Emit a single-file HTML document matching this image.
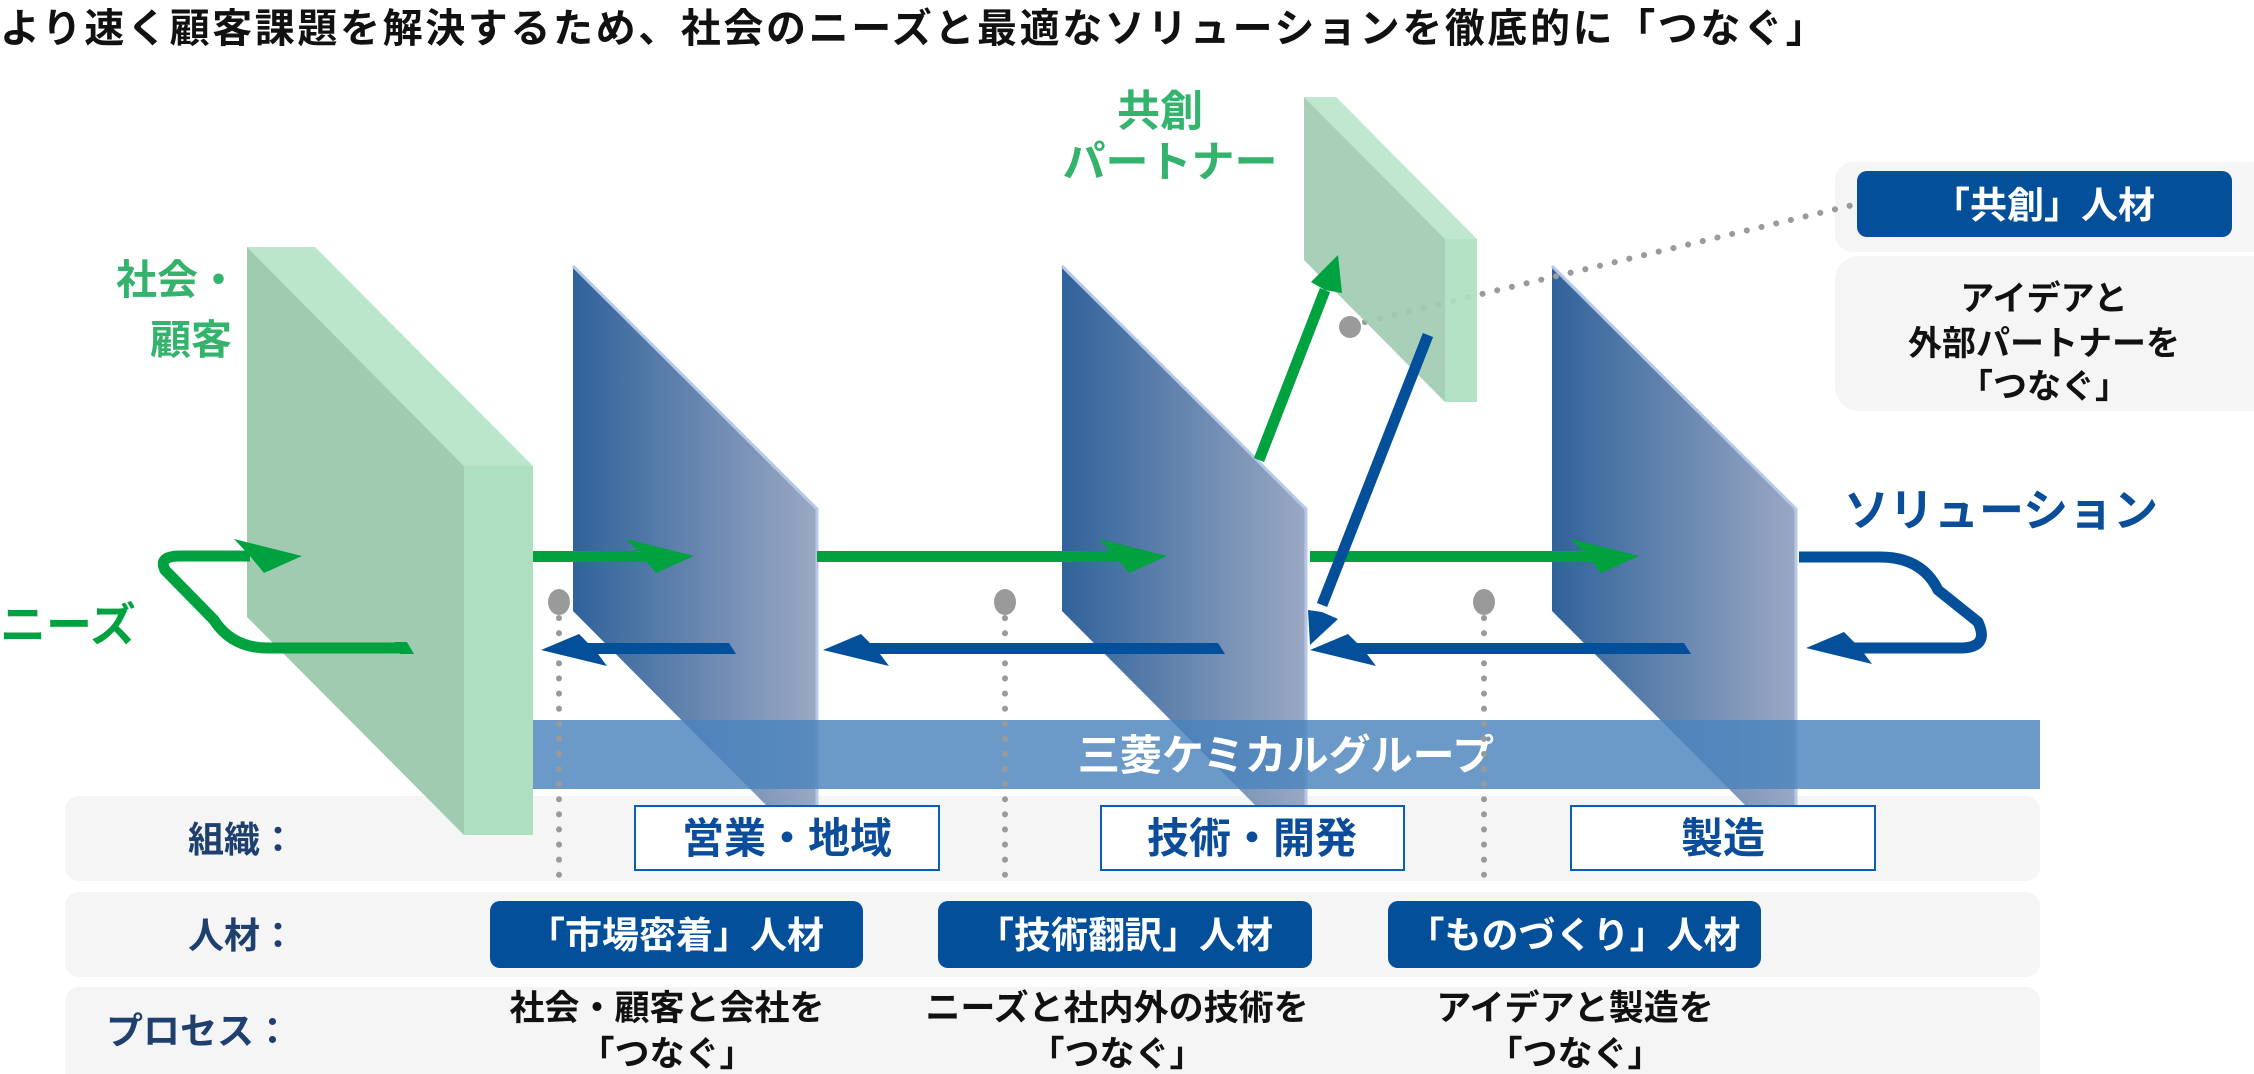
<!DOCTYPE html>
<html><head><meta charset="utf-8"><style>
html,body{margin:0;padding:0;background:#fff;}
svg{display:block;}
text{font-family:"Liberation Sans","Noto Sans CJK JP",sans-serif;font-weight:bold;}
</style></head><body>
<svg width="2254" height="1074" viewBox="0 0 2254 1074" xmlns="http://www.w3.org/2000/svg">
<defs>
<linearGradient id="bg" x1="0" y1="0" x2="1" y2="0">
<stop offset="0" stop-color="#2a5e98"/><stop offset="1" stop-color="#98a6c2"/>
</linearGradient>
</defs>
<text x="0" y="42" font-size="40" fill="#111" letter-spacing="2.6">より速く顧客課題を解決するため、社会のニーズと最適なソリューションを徹底的に「つなぐ」</text>

<rect x="65" y="796" width="1975" height="85" rx="14" fill="#f5f5f5"/>
<rect x="65" y="892" width="1975" height="85" rx="14" fill="#f5f5f5"/>
<rect x="65" y="987" width="1975" height="100" rx="14" fill="#f5f5f5"/>

<rect x="1835" y="162" width="440" height="90" rx="18" fill="#f5f5f5"/>
<rect x="1835" y="256" width="440" height="155" rx="24" fill="#f5f5f5"/>
<rect x="1857" y="171" width="375" height="66" rx="10" fill="#034f9a"/>
<text x="2044" y="218" font-size="37" fill="#fff" text-anchor="middle">「共創」人材</text>
<text x="2044" y="310" font-size="34" fill="#111" text-anchor="middle">アイデアと</text>
<text x="2044" y="355" font-size="34" fill="#111" text-anchor="middle">外部パートナーを</text>
<text x="2044" y="398" font-size="34" fill="#111" text-anchor="middle">「つなぐ」</text>

<polygon points="247,247 315,247 533,466 464,466" fill="#bbe6cc"/>
<polygon points="247,247 464,466 464,835 247,617" fill="#a1cbb1"/>
<rect x="464" y="466" width="69" height="369" fill="#aee0c0"/>

<g opacity="0.97">
<polygon points="573,266 817,509 817,806 767,806 573,611" fill="url(#bg)"/>
<polyline points="573,266 817,509 817,806" fill="none" stroke="#b5c8e8" stroke-width="3"/>
<polygon points="1062,266 1306,509 1306,806 1256,806 1062,611" fill="url(#bg)"/>
<polyline points="1062,266 1306,509 1306,806" fill="none" stroke="#b5c8e8" stroke-width="3"/>
<polygon points="1552,266 1796,509 1796,806 1746,806 1552,611" fill="url(#bg)"/>
<polyline points="1552,266 1796,509 1796,806" fill="none" stroke="#b5c8e8" stroke-width="3"/>
</g>

<rect x="533" y="720" width="1507" height="69" fill="#4a84bd" opacity="0.82"/>
<text x="1286" y="770" font-size="42" fill="#fff" text-anchor="middle">三菱ケミカルグループ</text>

<g stroke="#9a9a9a" stroke-width="6" stroke-linecap="round" stroke-dasharray="0.1 15" fill="none">
<line x1="559" y1="618" x2="559" y2="886"/>
<line x1="1005" y1="618" x2="1005" y2="886"/>
<line x1="1484" y1="618" x2="1484" y2="886"/>
<line x1="1365" y1="322" x2="1853" y2="205"/>
</g>
<g fill="#9a9a9a">
<ellipse cx="559" cy="602" rx="11" ry="13"/>
<ellipse cx="1005" cy="602" rx="11" ry="13"/>
<ellipse cx="1484" cy="602" rx="11" ry="13"/>
</g>

<g opacity="0.92">
<polygon points="1304,97 1336,97 1477,239 1445,239" fill="#bbe6cc"/>
<polygon points="1304,97 1445,239 1445,402 1304,260" fill="#a1cbb1"/>
<rect x="1445" y="239" width="32" height="163" fill="#aee0c0"/>
</g>
<circle cx="1350" cy="327" r="11" fill="#9a9a9a"/>

<g fill="#00a23f">
<path d="M400,648 H268 Q232,648 214,620 L165,570 Q158,556 180,556 H250" fill="none" stroke="#00a23f" stroke-width="11" stroke-linejoin="round"/>
<polygon points="395,642 407,642 414,654 400,654"/>
<polygon points="302,556 234,539 250,556 264,573"/>
<rect x="533" y="551" width="125" height="11"/>
<polygon points="694,556 626,539 642,556 656,573"/>
<rect x="817" y="551" width="310" height="11"/>
<polygon points="1167,556 1099,539 1115,556 1129,573"/>
<rect x="1310" y="551" width="290" height="11"/>
<polygon points="1639,556 1571,539 1587,556 1601,573"/>
<line x1="1259" y1="460" x2="1325" y2="290" stroke="#00a23f" stroke-width="11"/>
<polygon points="1338,255 1311,282 1325,290 1342,293"/>
</g>

<g fill="#034f9a">
<polygon points="580,643 729,643 736,654 580,654"/>
<polygon points="541,650 579,634 595,650 607,666"/>
<polygon points="862,643 1218,643 1225,654 862,654"/>
<polygon points="823,650 861,634 877,650 889,666"/>
<polygon points="1350,643 1684,643 1691,654 1350,654"/>
<polygon points="1310,650 1348,634 1364,650 1376,666"/>
<path d="M1799,557 H1880 Q1922,557 1938,590 L1978,622 Q1990,648 1960,648 H1845" fill="none" stroke="#034f9a" stroke-width="11" stroke-linejoin="round"/>
<polygon points="1806,648 1844,632 1860,648 1872,664"/>
<line x1="1428" y1="335" x2="1322" y2="605" stroke="#034f9a" stroke-width="11"/>
<polygon points="1310,645 1308,610 1322,612 1338,619"/>
</g>

<text x="239" y="294" font-size="41" fill="#33b36b" text-anchor="end">社会・</text>
<text x="232" y="354" font-size="41" fill="#33b36b" text-anchor="end">顧客</text>
<text x="0" y="641" font-size="46" fill="#00a23f">ニーズ</text>
<text x="1160" y="126" font-size="43" fill="#33b36b" text-anchor="middle">共創</text>
<text x="1170" y="177" font-size="43" fill="#33b36b" text-anchor="middle">パートナー</text>
<text x="1844" y="526" font-size="45" fill="#0a4d99">ソリューション</text>

<text x="188" y="852" font-size="36" fill="#1f3f6e">組織：</text>
<text x="188" y="948" font-size="36" fill="#1f3f6e">人材：</text>
<text x="106" y="1044" font-size="37" fill="#1f3f6e">プロセス：</text>

<g fill="#fff" stroke="#0b5dbb" stroke-width="2">
<rect x="635" y="806" width="304" height="64"/>
<rect x="1101" y="806" width="303" height="64"/>
<rect x="1571" y="806" width="304" height="64"/>
</g>
<g font-size="42" fill="#0b4d9a" text-anchor="middle">
<text x="787" y="853">営業・地域</text>
<text x="1252" y="853">技術・開発</text>
<text x="1723" y="853">製造</text>
</g>

<g fill="#034f9a">
<rect x="490" y="901" width="373" height="67" rx="10"/>
<rect x="938" y="901" width="374" height="67" rx="10"/>
<rect x="1388" y="901" width="373" height="67" rx="10"/>
</g>
<g font-size="37" fill="#fff" text-anchor="middle">
<text x="676" y="948">「市場密着」人材</text>
<text x="1125" y="948">「技術翻訳」人材</text>
<text x="1574" y="948">「ものづくり」人材</text>
</g>

<g font-size="35" fill="#111" text-anchor="middle">
<text x="667" y="1020">社会・顧客と会社を</text>
<text x="667" y="1066">「つなぐ」</text>
<text x="1117" y="1020">ニーズと社内外の技術を</text>
<text x="1117" y="1066">「つなぐ」</text>
<text x="1575" y="1020">アイデアと製造を</text>
<text x="1575" y="1066">「つなぐ」</text>
</g>
</svg>
</body></html>
